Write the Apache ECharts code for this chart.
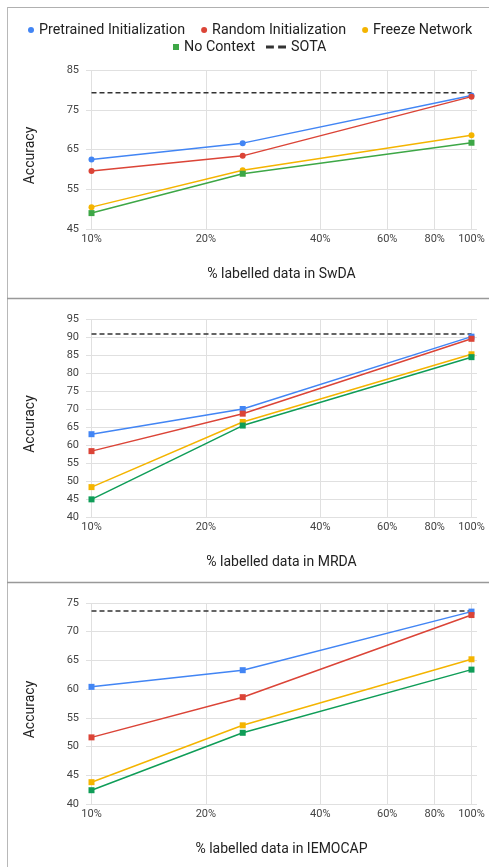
<!DOCTYPE html>
<html>
<head>
<meta charset="utf-8">
<script src="https://cdn.jsdelivr.net/npm/echarts@6/dist/echarts.min.js"></script>
<style>
  html, body { margin: 0; padding: 0; background: #ffffff; }
  #chart { width: 489px; height: 867px; }
</style>
</head>
<body>
<div id="chart"></div>
<script>
// ---- data ----
const xValues = [10, 25, 100];                 // % labelled data
const xTickValues = [10, 20, 40, 60, 80, 100]; // x tick labels (%)
const seriesNames = ['Pretrained Initialization', 'Random Initialization', 'Freeze Network', 'No Context'];
const sotaName = 'SOTA';

const swdaPretrained = [62.5, 66.6, 78.6];
const swdaRandom     = [59.6, 63.4, 78.3];
const swdaFreeze     = [50.5, 59.8, 68.6];
const swdaNoContext  = [49.0, 58.9, 66.7];
const swdaSota = 79.3;

const mrdaPretrained = [63.0, 70.0, 90.1];
const mrdaRandom     = [58.3, 68.7, 89.5];
const mrdaFreeze     = [48.3, 66.4, 85.2];
const mrdaNoContext  = [44.9, 65.4, 84.4];
const mrdaSota = 90.8;

const iemoPretrained = [60.4, 63.3, 73.5];
const iemoRandom     = [51.6, 58.6, 72.9];
const iemoFreeze     = [43.8, 53.7, 65.2];
const iemoNoContext  = [42.4, 52.4, 63.4];
const iemoSota = 73.6;

const datasetNames = ['SwDA', 'MRDA', 'IEMOCAP'];
const yMins = [45, 40, 40];
const yMaxs = [85, 95, 75];
const yIntervals = [10, 5, 5];

// ---- styling ----
const FONT = 'Roboto';
const panels = [
  { values: [swdaPretrained, swdaRandom, swdaFreeze, swdaNoContext], sota: swdaSota,
    symbols: ['circle', 'circle', 'circle', 'rect'],
    colors: ['#4285F4', '#DB4437', '#F4B400', '#3DA746'],
    top: 70, height: 159 },
  { values: [mrdaPretrained, mrdaRandom, mrdaFreeze, mrdaNoContext], sota: mrdaSota,
    symbols: ['rect', 'rect', 'rect', 'rect'],
    colors: ['#4285F4', '#DB4437', '#F4B400', '#0F9D58'],
    top: 319, height: 198 },
  { values: [iemoPretrained, iemoRandom, iemoFreeze, iemoNoContext], sota: iemoSota,
    symbols: ['rect', 'rect', 'rect', 'rect'],
    colors: ['#4285F4', '#DB4437', '#F4B400', '#0F9D58'],
    top: 603, height: 201 }
];

const grids = [], xAxes = [], yAxes = [], series = [];
panels.forEach((p, i) => {
  grids.push({ left: 86, right: 12, top: p.top, height: p.height, containLabel: false });
  xAxes.push({
    type: 'log', logBase: 10, gridIndex: i,
    min: 9.672, max: 103.4,
    axisLabel: { show: false }, axisTick: { show: false }, axisLine: { show: false },
    splitLine: { show: false },
    name: '% labelled data in ' + datasetNames[i],
    nameLocation: 'middle', nameGap: 38,
    nameTextStyle: { color: '#222', fontSize: 14, fontFamily: FONT }
  });
  yAxes.push({
    type: 'value', gridIndex: i,
    min: yMins[i], max: yMaxs[i], interval: yIntervals[i],
    axisLine: { show: false }, axisTick: { show: false },
    axisLabel: { color: '#444', fontSize: 11, margin: 7, fontFamily: FONT },
    splitLine: { lineStyle: { color: '#e0e0e0', width: 1 } },
    name: 'Accuracy', nameLocation: 'middle', nameRotate: 90, nameGap: 49,
    nameTextStyle: { color: '#222', fontSize: 14, fontFamily: FONT, padding: [0, 12, 0, 0] }
  });
  p.values.forEach((vals, k) => {
    series.push({
      name: seriesNames[k], type: 'line', xAxisIndex: i, yAxisIndex: i,
      data: xValues.map((x, j) => [x, vals[j]]),
      symbol: p.symbols[k], symbolSize: 6, showSymbol: true,
      lineStyle: { color: p.colors[k], width: 1.5 },
      itemStyle: { color: p.colors[k] },
      z: 3, animation: false, silent: true
    });
  });
  series.push({
    name: sotaName, type: 'line', xAxisIndex: i, yAxisIndex: i,
    data: [[xValues[0], p.sota], [xValues[xValues.length - 1], p.sota]],
    symbol: 'none', showSymbol: false,
    lineStyle: { color: '#333', width: 1.5, type: [5, 3] },
    itemStyle: { color: '#333' },
    z: 2, animation: false, silent: true,
    markLine: {
      silent: true, z: 1, animation: false,
      symbol: ['none', 'none'],
      lineStyle: { color: '#e0e0e0', width: 1, type: 'solid' },
      emphasis: { disabled: true },
      label: { show: true, position: 'start', distance: 5,
               formatter: (prm) => prm.value + '%',
               color: '#444', fontSize: 11, fontFamily: FONT },
      data: xTickValues.map(v => ({ xAxis: v }))
    }
  });
});

const legendText = { fontSize: 14.3, color: '#222', fontFamily: FONT };
const option = {
  backgroundColor: '#ffffff',
  animation: false,
  legend: [
    { data: seriesNames.slice(0, 3).map(n => ({ name: n, icon: 'circle' })),
      left: 28, top: 23, padding: 0, itemGap: 16, itemWidth: 6, itemHeight: 6,
      itemStyle: { borderWidth: 0 }, textStyle: legendText, selectedMode: false },
    { data: [{ name: seriesNames[3], icon: 'rect' }],
      left: 173, top: 40, padding: 0, itemWidth: 6, itemHeight: 6,
      itemStyle: { borderWidth: 0 }, textStyle: legendText, selectedMode: false },
    { data: [{ name: sotaName, icon: 'path://M0,0h8v3h-8zM12.3,0h8v3h-8z' }],
      left: 266, top: 40, padding: 0, itemWidth: 20, itemHeight: 3,
      itemStyle: { borderWidth: 0 }, textStyle: legendText, selectedMode: false }
  ],
  grid: grids, xAxis: xAxes, yAxis: yAxes, series: series,
  graphic: [
    { type: 'line', shape: { x1: 7, y1: 7.5, x2: 489, y2: 7.5 }, style: { stroke: '#b0b0b0', lineWidth: 1 }, silent: true },
    { type: 'line', shape: { x1: 7.5, y1: 7, x2: 7.5, y2: 867 }, style: { stroke: '#b8b8b8', lineWidth: 1 }, silent: true },
    { type: 'line', shape: { x1: 7, y1: 298.5, x2: 489, y2: 298.5 }, style: { stroke: '#999', lineWidth: 1.5 }, silent: true },
    { type: 'line', shape: { x1: 7, y1: 582.5, x2: 489, y2: 582.5 }, style: { stroke: '#999', lineWidth: 1.5 }, silent: true }
  ]
};

const chart = echarts.init(document.getElementById('chart'), null, { renderer: 'canvas' });
chart.setOption(option);
</script>
</body>
</html>
